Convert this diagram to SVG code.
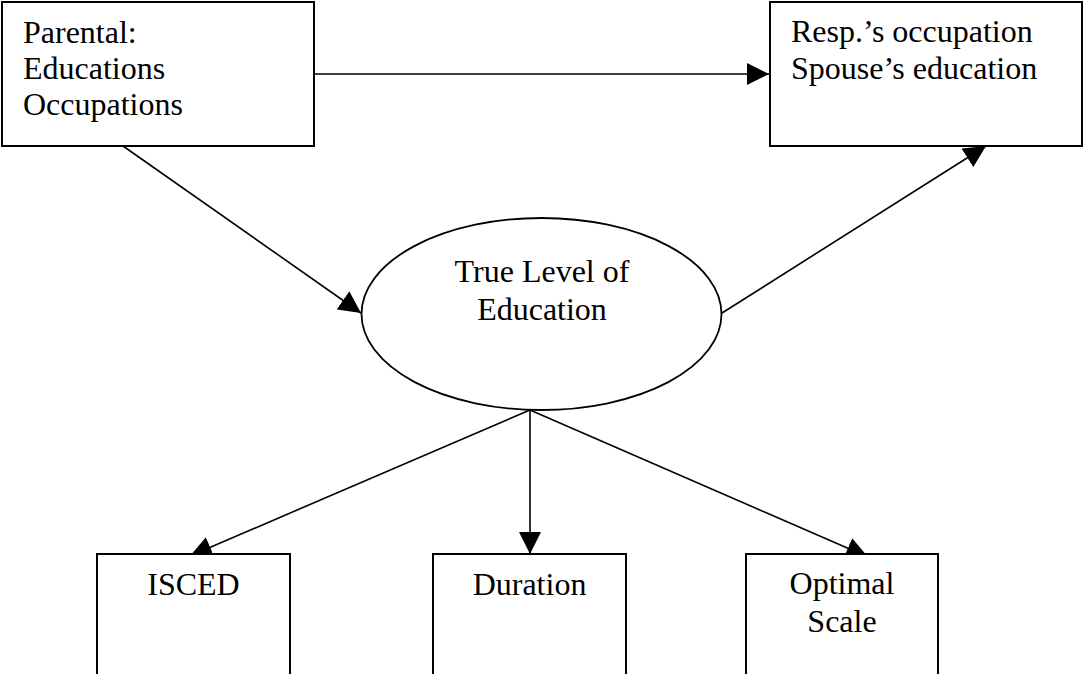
<svg xmlns="http://www.w3.org/2000/svg" width="1084" height="674" viewBox="0 0 1084 674">
<style>
.box{fill:#fff;stroke:#000;stroke-width:2}
.ell{fill:#fff;stroke:#000;stroke-width:1.8}
.conn{stroke:#000;stroke-width:1.6;fill:none;marker-end:url(#ah)}
text{font-family:"Liberation Serif","Times New Roman",serif;font-size:32px;fill:#000}
.c{text-anchor:middle}
</style>
<defs>
<marker id="ah" markerUnits="userSpaceOnUse" markerWidth="22" markerHeight="22" viewBox="0 0 20 20" refX="20" refY="10" orient="auto">
<path d="M0,0 L20,10 L0,20 z" fill="#000"/>
</marker>
</defs>
<rect width="1084" height="674" fill="#fff"/>
<g id="connectors">
<line class="conn" x1="314" y1="74" x2="769" y2="74"/>
<line class="conn" x1="123" y1="146" x2="361" y2="313"/>
<line class="conn" x1="722" y1="313" x2="986" y2="146"/>
<line class="conn" x1="530" y1="410" x2="530" y2="554"/>
<line class="conn" x1="530" y1="410" x2="190" y2="556"/>
<line class="conn" x1="530" y1="410" x2="868" y2="557"/>
</g>
<g id="parental">
<rect class="box" x="2" y="2" width="312" height="144"/>
<text x="23" y="43">Parental:</text>
<text x="23" y="79">Educations</text>
<text x="23" y="115">Occupations</text>
</g>
<g id="resp">
<rect class="box" x="770" y="2" width="312" height="144"/>
<text x="791" y="42">Resp.’s occupation</text>
<text x="791" y="79">Spouse’s education</text>
</g>
<g id="true-level">
<ellipse class="ell" cx="541.5" cy="314" rx="180" ry="96"/>
<text class="c" x="542" y="282">True Level of</text>
<text class="c" x="542" y="320">Education</text>
</g>
<g id="isced">
<rect class="box" x="97" y="554" width="193" height="140"/>
<text class="c" x="193.5" y="595">ISCED</text>
</g>
<g id="duration">
<rect class="box" x="433" y="554" width="193" height="140"/>
<text class="c" x="529.5" y="595">Duration</text>
</g>
<g id="optimal">
<rect class="box" x="746" y="554" width="192" height="140"/>
<text class="c" x="842" y="594">Optimal</text>
<text class="c" x="842" y="632">Scale</text>
</g>
</svg>
